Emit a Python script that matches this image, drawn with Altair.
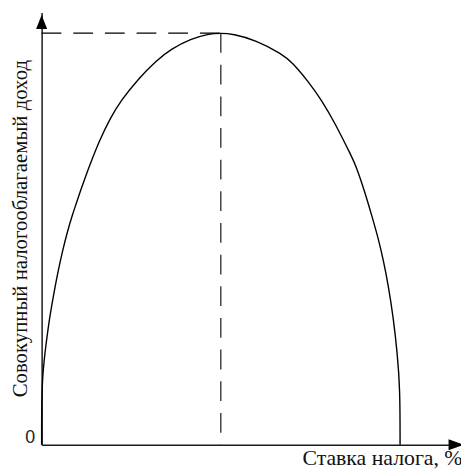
import altair as alt
import pandas as pd

# Tax rate (%) and total taxable income (relative units, peak = 100)
rate = [0, 0, 1.1, 2.2, 3.3, 4.4, 5.8, 7.2, 8.6, 9.7,
        10.8, 12.2, 13.3, 16.0, 19.3, 22.1, 27.1, 31.8, 36.2, 41.7,
        46.4, 50.0, 53.3, 59.7, 67.1, 69.9, 74.6, 78.2, 81.8, 86.5,
        87.8, 90.1, 92.0, 93.9, 95.3, 96.7, 98.1, 99.2, 100, 100]
income = [0, 15.4, 23.6, 30.8, 36.2, 41.4, 47.0, 51.8, 55.9, 58.7,
          61.6, 65.0, 67.6, 73.7, 79.6, 83.6, 89.0, 93.2, 96.2, 98.6,
          99.8, 100, 99.8, 98.3, 94.9, 92.9, 88.0, 83.6, 78.2, 70.0,
          67.5, 61.6, 56.0, 50.2, 45.0, 38.8, 31.0, 22.5, 13.7, 0]

peak_rate = 50
peak_income = 100
x_max = 117
y_max = 105

x_title = "Ставка налога, %"
y_title = "Совокупный  налогооблагаемый  доход"
y_tick_values = [0]

SERIF = "Liberation Serif, Times New Roman, serif"

curve_df = pd.DataFrame({"rate": rate, "income": income, "i": list(range(len(rate)))})
guide_df = pd.DataFrame({
    "x": [0, peak_rate], "x2": [peak_rate, peak_rate],
    "y": [peak_income, peak_income], "y2": [peak_income, 0],
})
arrow_df = pd.DataFrame({
    "x": [0, x_max - 1.4],
    "y": [y_max - 2.3, 0],
    "shape": ["M0,-1L-0.8,1L0.8,1Z", "M1,0L-1,-0.75L-1,0.75Z"],
    "size": [196, 225],
})

xs = alt.Scale(domain=[0, x_max], nice=False, zero=False)
ys = alt.Scale(domain=[0, y_max], nice=False, zero=False)

x_axis = alt.Axis(
    title=x_title, values=[], ticks=False, labels=False, grid=False,
    domainColor="#1a1a1a", domainWidth=1.5,
    titleFont=SERIF, titleFontSize=22, titleFontWeight="normal",
    titleColor="#111", titleAlign="right", titleBaseline="alphabetic",
    titleX=425, titleY=20,
)
y_axis = alt.Axis(
    title=y_title, values=y_tick_values, ticks=False, tickSize=0, grid=False,
    domainColor="#1a1a1a", domainWidth=1.5,
    labelFont="Liberation Sans", labelFontSize=18, labelColor="#222",
    labelPadding=7, labelOffset=-7,
    titleFont=SERIF, titleFontSize=21, titleFontWeight="normal",
    titleColor="#111", titleAngle=270, titleAlign="center", titleBaseline="alphabetic",
    titleX=-15, titleY=218,
)

curve = alt.Chart(curve_df).mark_line(
    color="black", strokeWidth=1.4, clip=False, interpolate="basis"
).encode(
    x=alt.X("rate:Q", scale=xs, axis=x_axis),
    y=alt.Y("income:Q", scale=ys, axis=y_axis),
    order="i:Q",
)

guides = alt.Chart(guide_df).mark_rule(color="black", strokeWidth=1.1, strokeDash=[20, 12]).encode(
    x=alt.X("x:Q", scale=xs, axis=x_axis),
    x2="x2:Q",
    y=alt.Y("y:Q", scale=ys, axis=y_axis),
    y2="y2:Q",
)

arrows = alt.Chart(arrow_df).mark_point(filled=True, color="black", opacity=1, strokeWidth=0, clip=False).encode(
    x=alt.X("x:Q", scale=xs, axis=x_axis),
    y=alt.Y("y:Q", scale=ys, axis=y_axis),
    shape=alt.Shape("shape:N", scale=None),
    size=alt.Size("size:Q", scale=None),
)

chart = alt.layer(curve, guides, arrows).properties(
    width=424, height=437,
    autosize=alt.AutoSizeParams(type="none"),
    padding={"left": 34, "top": 2, "right": 0, "bottom": 24},
    background="white",
).configure_view(stroke=None).configure_axis(titleFont=SERIF)

chart.save("out.html", embed_options={"renderer": "svg", "actions": False})
